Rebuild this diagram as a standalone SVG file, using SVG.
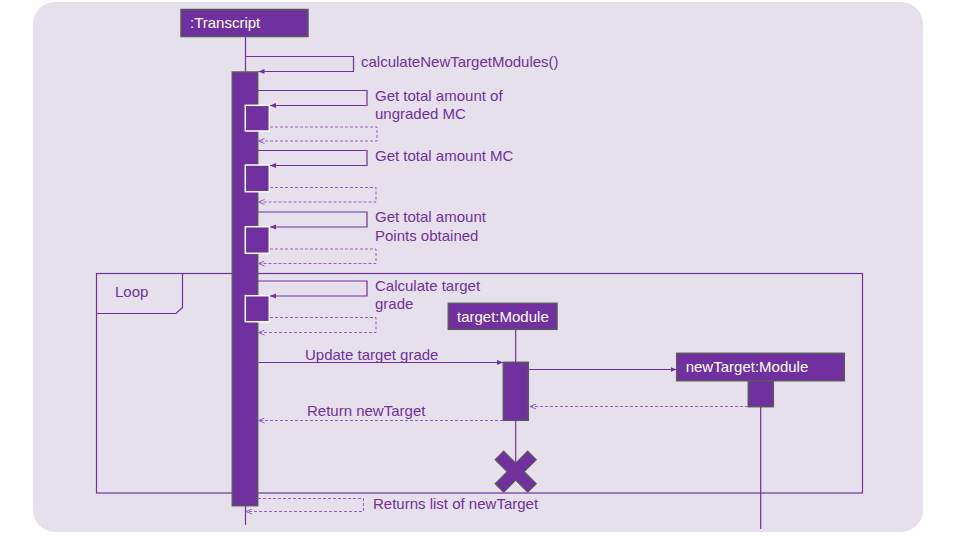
<svg xmlns="http://www.w3.org/2000/svg" width="960" height="540" viewBox="0 0 960 540">
<defs>
<marker id="ah" markerWidth="7" markerHeight="6" refX="6" refY="3" orient="auto" markerUnits="userSpaceOnUse">
<path d="M0,0.5 L6,3 L0,5.5 z" fill="#7030A0"/>
</marker>
<marker id="ahd" markerWidth="7" markerHeight="6" refX="6" refY="3" orient="auto" markerUnits="userSpaceOnUse">
<path d="M0,0.5 L6,3 L0,5.5" fill="none" stroke="#9A5CCB" stroke-width="1"/>
</marker>
</defs>
<style>
text{font-family:"Liberation Sans",Arial,sans-serif;font-size:15px;fill:#7030A0}
.hd{fill:#FFFFFF}
.obj{fill:#7030A0;stroke:#595959;stroke-width:1.5}
.act{fill:#7030A0;stroke:#595959;stroke-width:1.5}
.sub{fill:#7030A0;stroke:#FFFFFF;stroke-width:1.5}
.ln{fill:none;stroke:#7030A0;stroke-width:1.2}
.msg{fill:none;stroke:#7030A0;stroke-width:1.2;marker-end:url(#ah)}
.ret{fill:none;stroke:#9A5CCB;stroke-width:1;stroke-dasharray:3,2;marker-end:url(#ahd)}
</style>
<rect x="33" y="2" width="890" height="530" rx="22" fill="#E6E0EC"/>

<g id="loop-frame">
<rect x="96.5" y="273.5" width="766" height="219.5" class="ln"/>
<path d="M96.5,313.5 L176,313.5 L182.5,307.5 L182.5,273.5" class="ln"/>
<text x="115" y="297">Loop</text>
</g>

<g id="lifelines">
<line x1="245.5" y1="36" x2="245.5" y2="525" class="ln"/>
<line x1="515.7" y1="329" x2="515.7" y2="465" class="ln"/>
<line x1="760.7" y1="406" x2="760.7" y2="529" class="ln"/>
</g>

<g id="transcript">
<rect x="181" y="9.5" width="127" height="27" class="obj"/>
<text x="190" y="28" class="hd">:Transcript</text>
</g>

<g id="transcript-activation">
<rect x="232.3" y="72" width="25.4" height="433.7" class="act"/>
</g>

<g id="target-module">
<rect x="448.3" y="303.3" width="108.7" height="26" class="obj"/>
<text x="457" y="322" class="hd">target:Module</text>
</g>
<g id="target-activation">
<rect x="503.3" y="362.3" width="25" height="58" class="act"/>
</g>
<g id="target-destroy">
<path transform="translate(515.7,471.7) rotate(45)" d="M-6,-23 L6,-23 L6,-6 L23,-6 L23,6 L6,6 L6,23 L-6,23 L-6,6 L-23,6 L-23,-6 L-6,-6 z" fill="#7030A0" stroke="#595959" stroke-width="1.2"/>
</g>

<g id="newtarget-module">
<rect x="676.7" y="353.3" width="167.6" height="27.4" class="obj"/>
<text x="685.7" y="372" class="hd">newTarget:Module</text>
</g>
<g id="newtarget-activation">
<rect x="748.3" y="380.7" width="25" height="26" class="act"/>
</g>

<g id="sub-activations">
<rect x="245.3" y="105.3" width="24" height="25.7" class="sub"/>
<rect x="245.3" y="165" width="24" height="26.7" class="sub"/>
<rect x="245.3" y="226.7" width="24" height="26.6" class="sub"/>
<rect x="245.3" y="295.7" width="24" height="26" class="sub"/>
</g>

<g id="connectors">
<path d="M245.5,56.5 L353.5,56.5 L353.5,71.5 L258.5,71.5" class="msg"/>
<path d="M258,90.5 L367,90.5 L367,105.5 L270,105.5" class="msg"/>
<path d="M270,127 L377,127 L377,141 L258.5,141" class="ret"/>
<path d="M258,150.5 L367,150.5 L367,165.5 L270,165.5" class="msg"/>
<path d="M270,187.5 L376,187.5 L376,202 L258.5,202" class="ret"/>
<path d="M258,212 L367,212 L367,227 L270,227" class="msg"/>
<path d="M270,249 L376,249 L376,263.5 L258.5,263.5" class="ret"/>
<path d="M258,281 L367,281 L367,296 L270,296" class="msg"/>
<path d="M270,317.5 L376,317.5 L376,332.5 L258.5,332.5" class="ret"/>
<path d="M258.5,362.5 L503,362.5" class="msg"/>
<path d="M503,420.5 L258.5,420.5" class="ret"/>
<path d="M528.3,369.5 L676.5,369.5" class="msg"/>
<path d="M748,406.5 L530,406.5" class="ret"/>
<path d="M258,498.5 L363.5,498.5 L363.5,511.5 L246,511.5" class="ret"/>
</g>

<g id="labels">
<text x="361" y="67">calculateNewTargetModules()</text>
<text x="375" y="101">Get total amount of</text>
<text x="375" y="119">ungraded MC</text>
<text x="375" y="161">Get total amount MC</text>
<text x="375" y="222">Get total amount</text>
<text x="375" y="241">Points obtained</text>
<text x="375" y="291">Calculate target</text>
<text x="375" y="309">grade</text>
<text x="305" y="360">Update target grade</text>
<text x="307" y="416">Return newTarget</text>
<text x="373" y="509">Returns list of newTarget</text>
</g>
</svg>
